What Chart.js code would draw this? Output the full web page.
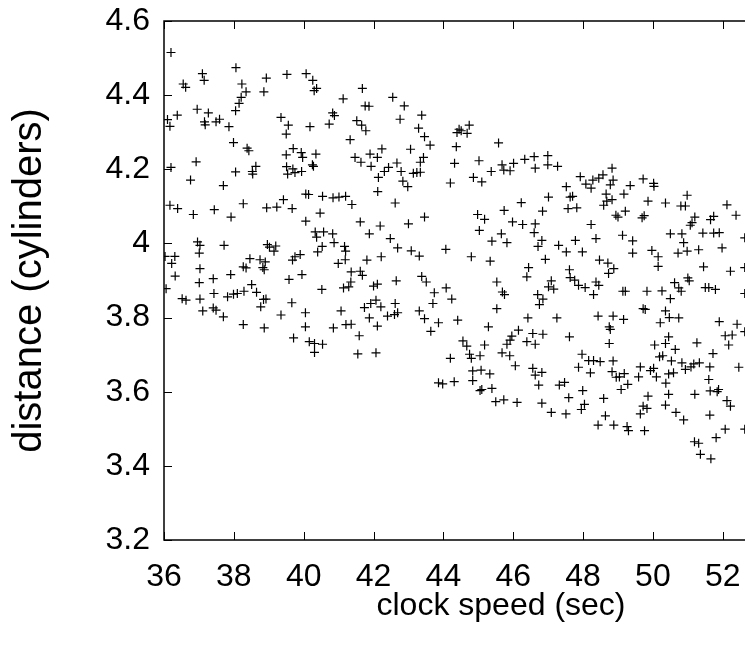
<!DOCTYPE html>
<html>
<head>
<meta charset="utf-8">
<script src="https://cdn.jsdelivr.net/npm/chart.js@4/dist/chart.umd.min.js"></script>
<style>
  html, body { margin: 0; padding: 0; background: #fff; overflow: hidden; }
  #wrap { position: relative; width: 850px; height: 648px; }
</style>
</head>
<body>
<div id="wrap"><canvas id="scatter"></canvas></div>
<script>
// points, [clock speed, distance], grouped by region
const upperLeft = [
  [36.20,4.515],[38.06,4.474],[37.10,4.458],[37.15,4.440],[36.55,4.430],[36.62,4.421],[38.23,4.430],[38.93,4.446],
  [39.52,4.456],[40.07,4.458],[40.26,4.440],[40.30,4.412],[40.37,4.418],[38.35,4.409],[38.21,4.394],[38.15,4.378],
  [38.05,4.358],[38.86,4.409],[41.13,4.390],[36.95,4.362],[37.27,4.352],[36.38,4.346],[36.10,4.334],[36.17,4.316],
  [37.16,4.328],[37.18,4.320],[37.49,4.328],[37.59,4.335],[37.86,4.315],[39.35,4.340],[39.56,4.319],[39.50,4.295],
  [40.18,4.315],[40.73,4.322],[40.83,4.352],[40.88,4.345],[41.52,4.331],[41.33,4.280],[41.47,4.232],[37.99,4.272],
  [38.38,4.257],[38.43,4.250],[36.20,4.205],[36.92,4.220],[36.76,4.171],[37.70,4.156],[38.05,4.193],[38.63,4.208],
  [38.53,4.194],[38.54,4.187],[39.50,4.239],[39.70,4.256],[39.93,4.245],[39.97,4.232],[40.35,4.241],[40.25,4.212],
  [40.28,4.208],[39.51,4.207],[39.54,4.187],[39.69,4.201],[39.75,4.191],[39.94,4.194],[40.06,4.133],[40.14,4.132]
];
const middleLeft = [
  [39.42,4.118],[40.54,4.127],[40.84,4.123],[41.01,4.125],[41.20,4.127],[41.38,4.105],[38.27,4.107],[36.17,4.103],
  [36.39,4.094],[36.84,4.078],[37.44,4.091],[37.92,4.071],[38.94,4.096],[39.23,4.098],[39.67,4.094],[40.47,4.082],
  [40.06,4.060],[40.33,4.031],[40.37,4.017],[40.57,4.031],[40.83,4.026],[40.87,4.002],[41.17,3.992],[41.20,3.979],
  [41.19,3.956],[40.99,3.946],[40.53,3.992],[40.40,3.977],[36.96,4.004],[37.03,3.995],[37.01,3.974],[37.72,3.995],
  [38.96,3.997],[39.02,3.990],[39.20,3.993],[39.15,3.979],[36.03,3.965],[36.31,3.965],[36.22,3.946],[36.32,3.912],
  [36.06,3.878],[37.03,3.932],[37.01,3.894],[37.03,3.850],[37.41,3.905],[37.43,3.865],[37.91,3.916],[38.46,3.959],
  [38.27,3.937],[38.35,3.934],[38.75,3.956],[38.90,3.950],[38.83,3.935],[38.87,3.929],[39.68,3.955],[39.75,3.964],
  [39.90,3.970],[39.58,3.903],[39.95,3.916],[41.36,3.923],[41.35,3.896],[41.29,3.883],[41.14,3.880],[40.52,3.876],
  [36.52,3.851],[36.63,3.847],[37.11,3.818],[37.41,3.826],[37.49,3.820],[37.70,3.802],[37.82,3.856],[37.99,3.863],
  [38.10,3.865],[38.29,3.871],[38.51,3.889],[38.65,3.868],[38.85,3.849],[38.92,3.850],[38.77,3.829],[39.66,3.840],
  [39.35,3.807],[40.05,3.813],[38.27,3.781],[38.87,3.772],[40.05,3.775],[40.85,3.772],[41.21,3.781],[41.36,3.782],
  [39.71,3.745],[40.16,3.735],[40.31,3.730],[40.54,3.728],[40.31,3.706],[41.07,3.818]
];
const upperCentre = [
  [41.68,4.418],[42.55,4.394],[41.76,4.371],[41.87,4.370],[42.88,4.371],[43.38,4.346],[42.76,4.335],[41.66,4.319],
  [41.78,4.304],[43.29,4.311],[43.46,4.288],[43.62,4.265],[43.06,4.254],[42.24,4.255],[41.90,4.241],[42.11,4.232],
  [41.64,4.219],[41.93,4.208],[43.43,4.232],[43.34,4.219],[42.31,4.194],[42.43,4.205],[42.67,4.217],[42.79,4.194],
  [43.14,4.189],[43.24,4.191],[43.34,4.192],[42.14,4.178],[42.84,4.168],[42.98,4.153],[42.12,4.140],[44.45,4.308],
  [44.39,4.299],[44.51,4.304],[44.74,4.319],[44.68,4.297],[44.37,4.261],[44.32,4.216],[44.20,4.163],[44.86,4.178],
  [45.10,4.166],[45.02,4.223],[45.37,4.194],[45.68,4.212],[45.73,4.198],[45.91,4.196],[46.01,4.216],[45.58,4.271],
  [46.33,4.227],[46.60,4.234],[46.63,4.203],[46.99,4.237],[46.99,4.212]
];
const middleCentre = [
  [42.62,4.109],[43.46,4.071],[43.00,4.053],[41.62,4.058],[42.19,4.047],[41.88,4.026],[42.48,4.013],[42.69,3.988],
  [43.08,3.980],[43.31,3.966],[41.81,3.955],[42.22,3.964],[44.07,3.984],[44.80,3.964],[45.34,3.952],[44.98,4.078],
  [45.18,4.065],[45.74,4.089],[46.23,4.110],[47.01,4.125],[46.84,4.087],[45.98,4.058],[46.27,4.051],[46.63,4.053],
  [46.60,4.029],[45.03,4.035],[45.66,4.026],[45.39,4.006],[45.82,4.002],[46.82,4.008],[46.71,3.992],[46.92,3.957],
  [46.44,3.935],[46.39,3.910],[47.01,3.883],[41.62,3.925],[41.68,3.914],[42.00,3.885],[42.11,3.890],[42.65,3.899],
  [43.38,3.911],[43.51,3.896],[43.74,3.867],[44.08,3.880],[44.24,3.850],[43.70,3.838],[43.31,3.818],[43.46,3.797],
  [43.86,3.786],[43.64,3.763],[44.41,3.793],[41.74,3.827],[41.92,3.838],[42.07,3.847],[42.21,3.829],[42.62,3.838],
  [42.60,3.808],[42.69,3.813],[42.40,3.804],[41.88,3.799],[42.11,3.777],[41.59,3.751],[41.55,3.702],[42.07,3.705],
  [45.53,3.896],[45.69,3.869],[45.75,3.862],[46.70,3.862],[46.85,3.850],[46.75,3.835],[45.53,3.824],[46.42,3.799],
  [45.29,3.775],[46.15,3.766],[45.96,3.750],[45.91,3.739],[45.82,3.728],[46.39,3.735],[46.56,3.757],[46.63,3.728],
  [46.85,3.755],[45.18,3.726],[44.56,3.737],[44.67,3.723],[44.75,3.701],[44.80,3.690],[45.05,3.697],[45.68,3.705],
  [45.90,3.697],[44.20,3.690]
];
const lowerCentre = [
  [46.06,3.670],[46.56,3.663],[46.63,3.645],[46.82,3.652],[46.73,3.618],[44.84,3.656],[45.08,3.658],[45.33,3.648],
  [44.84,3.630],[44.31,3.627],[43.86,3.624],[43.98,3.621],[45.05,3.603],[45.10,3.606],[45.39,3.609],[45.50,3.573],
  [45.73,3.578],[46.11,3.571],[46.82,3.569]
];
const upperRight = [
  [47.27,4.208],[47.52,4.153],[47.92,4.180],[48.08,4.160],[48.23,4.149],[48.28,4.171],[48.45,4.176],[48.57,4.185],
  [48.83,4.203],[48.86,4.171],[48.78,4.158],[49.35,4.156],[49.72,4.174],[50.02,4.162],[50.03,4.154],[49.17,4.133],
  [48.66,4.133]
];
const middleRight = [
  [47.63,4.125],[47.70,4.127],[47.57,4.094],[47.82,4.096],[48.68,4.114],[48.59,4.103],[48.83,4.118],[49.21,4.087],
  [48.94,4.076],[49.00,4.071],[49.69,4.069],[49.75,4.075],[49.86,4.114],[50.36,4.109],[50.98,4.130],[50.80,4.101],
  [50.93,4.101],[51.20,4.071],[51.65,4.064],[51.74,4.073],[52.12,4.104],[52.38,4.076],[48.23,4.051],[47.78,4.008],
  [48.37,4.013],[49.13,4.022],[49.42,4.007],[49.42,3.974],[47.30,3.995],[47.52,3.977],[47.98,3.977],[49.97,3.981],
  [50.15,3.964],[50.15,3.938],[50.50,4.026],[50.83,4.026],[50.88,4.002],[51.07,4.049],[51.12,4.056],[51.43,4.028],
  [51.74,4.028],[51.90,4.029],[51.98,3.988],[52.63,4.015],[50.72,3.974],[50.98,3.979],[51.31,3.983],[51.45,3.937],
  [48.47,3.955],[48.71,3.947],[48.88,3.932],[48.73,3.919],[47.61,3.929],[47.63,3.908],[47.76,3.901],[47.87,3.887],
  [48.06,3.881],[48.37,3.896],[48.45,3.887],[48.30,3.862],[47.09,3.899],[47.16,3.877],[49.14,3.871],[49.21,3.871],
  [49.83,3.871],[50.26,3.872],[50.50,3.851],[50.62,3.894],[50.74,3.880],[50.81,3.871],[51.00,3.907],[51.04,3.899],
  [51.50,3.881],[51.60,3.881],[51.79,3.876],[52.22,3.925],[52.63,3.935],[49.72,3.824],[49.78,3.822],[50.36,3.818],
  [50.21,3.786],[50.47,3.800],[50.74,3.799],[47.25,3.799],[48.43,3.804],[48.86,3.804],[49.16,3.795],[48.75,3.775],
  [48.78,3.768],[47.61,3.748],[48.75,3.730],[47.97,3.701],[48.16,3.684],[48.30,3.684],[48.49,3.681],[48.86,3.683],
  [51.90,3.789],[52.41,3.782],[52.63,3.762],[52.07,3.751],[52.27,3.753],[52.17,3.726],[51.26,3.732],[50.45,3.748],
  [50.36,3.730],[50.05,3.726],[50.64,3.714],[50.19,3.694],[50.28,3.697],[50.53,3.683],[51.72,3.703],[50.83,3.678],
  [51.17,3.675],[51.33,3.678],[52.63,3.865]
];
const lowerRight = [
  [47.87,3.666],[48.21,3.651],[48.83,3.654],[48.95,3.639],[49.04,3.640],[49.18,3.649],[49.28,3.620],[49.09,3.606],
  [49.59,3.640],[49.64,3.667],[49.93,3.657],[50.02,3.663],[50.10,3.640],[50.45,3.648],[50.59,3.651],[50.37,3.623],
  [50.45,3.593],[50.36,3.564],[50.93,3.660],[51.09,3.667],[51.63,3.667],[51.60,3.633],[52.46,3.666],[47.32,3.618],
  [47.47,3.625],[47.59,3.584],[47.99,3.603],[47.95,3.552],[48.04,3.566],[48.59,3.582],[47.09,3.544],[47.51,3.540],
  [48.64,3.535],[48.43,3.510],[48.88,3.510],[49.26,3.506],[49.30,3.495],[49.76,3.495],[49.64,3.540],[49.72,3.561],
  [49.83,3.555],[49.86,3.588],[50.66,3.544],[50.88,3.524],[51.20,3.593],[51.63,3.537],[51.64,3.602],[51.84,3.600],
  [51.88,3.606],[52.12,3.576],[52.22,3.561],[52.07,3.499],[51.81,3.476],[52.63,3.499],[51.19,3.465],[51.31,3.461],
  [51.36,3.431],[51.66,3.419]
];

const xMin = 36, xMax = 55.3, xStep = 2;
const yMin = 3.2, yMax = 4.6, yStep = 0.2;
const xTitle = "clock speed (sec)";
const yTitle = "distance (cylinders)";

const allPoints = [].concat(upperLeft, middleLeft, upperCentre, middleCentre, lowerCentre,
  upperRight, middleRight, lowerRight).map(p => ({ x: p[0], y: p[1] }));

const family = "'Liberation Sans', Arial, sans-serif";
const tickFont = { family, size: 32 };
const xTitleFont = { family, size: 32 };
const yTitleFont = { family, size: 40 };

// gnuplot style box with ticks pointing inwards
const framePlugin = {
  id: "frame",
  afterDatasetsDraw(chart) {
    const { ctx, chartArea: a, scales: { x, y } } = chart;
    const len = 8;
    ctx.save();
    ctx.strokeStyle = "#000";
    ctx.lineWidth = 1.5;
    ctx.strokeRect(a.left, a.top, a.right - a.left, a.bottom - a.top);
    ctx.beginPath();
    x.ticks.forEach(t => {
      const px = Math.round(x.getPixelForValue(t.value)) + 0.5;
      ctx.moveTo(px, a.bottom); ctx.lineTo(px, a.bottom - len);
      ctx.moveTo(px, a.top); ctx.lineTo(px, a.top + len);
    });
    y.ticks.forEach(t => {
      const py = Math.round(y.getPixelForValue(t.value)) + 0.5;
      ctx.moveTo(a.left, py); ctx.lineTo(a.left + len, py);
      ctx.moveTo(a.right, py); ctx.lineTo(a.right - len, py);
    });
    ctx.lineWidth = 1;
    ctx.stroke();
    ctx.restore();
  }
};

new Chart(document.getElementById("scatter"), {
  type: "scatter",
  data: {
    datasets: [{
      data: allPoints,
      pointStyle: "cross",
      pointRadius: 4.5,
      pointHoverRadius: 4.5,
      borderColor: "#000",
      backgroundColor: "#000",
      borderWidth: 1.2
    }]
  },
  options: {
    responsive: true,
    maintainAspectRatio: false,
    animation: false,
    events: [],
    layout: { padding: { top: 21, right: 12, left: 0, bottom: 0 } },
    plugins: { legend: { display: false }, tooltip: { enabled: false } },
    scales: {
      x: {
        type: "linear",
        min: xMin, max: xMax,
        grid: { display: false, drawTicks: false },
        border: { display: false },
        ticks: { stepSize: xStep, includeBounds: false, color: "#000", font: tickFont, padding: 18, maxRotation: 0 },
        title: { display: true, text: xTitle, color: "#000", font: xTitleFont, padding: { top: 0, bottom: 23 } },
        afterFit(s) { s.height = 108; s.paddingLeft = 0; s.paddingRight = 0; }
      },
      y: {
        type: "linear",
        min: yMin, max: yMax,
        grid: { display: false, drawTicks: false },
        border: { display: false },
        ticks: {
          stepSize: yStep, color: "#000", font: tickFont, padding: 14,
          callback: v => String(+v.toFixed(1))
        },
        title: { display: true, text: yTitle, color: "#000", font: yTitleFont, padding: { top: 6, bottom: 0 } },
        afterFit(s) { s.width = 164; s.paddingTop = 0; s.paddingBottom = 0; }
      }
    }
  },
  plugins: [framePlugin]
});
</script>
</body>
</html>
